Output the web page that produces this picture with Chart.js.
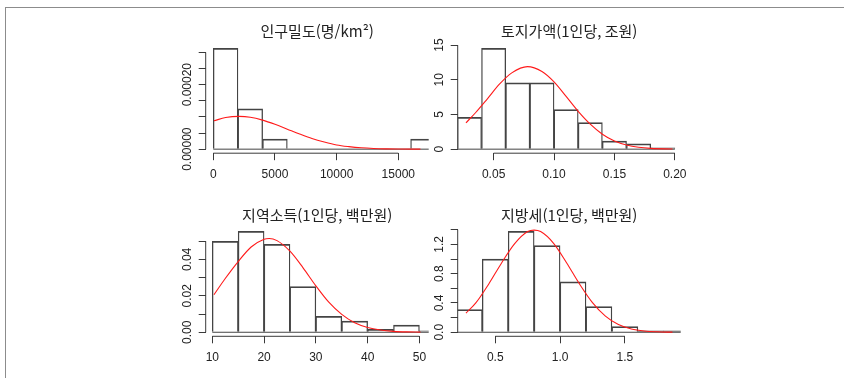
<!DOCTYPE html>
<html lang="ko">
<head>
<meta charset="utf-8">
<title>시군구 지표 분포</title>
<script src="https://cdn.jsdelivr.net/npm/chart.js@4.4.1/dist/chart.umd.min.js"></script>
<style>
  html, body { margin: 0; padding: 0; background: #fff; }
  #page { position: relative; width: 844px; height: 378px; overflow: hidden; }
  #frame {
    position: absolute; left: 5px; top: 7px; right: -2px; bottom: -2px;
    border-top: 1px solid #8c8c8c; border-left: 1px solid #8c8c8c;
  }
  canvas { position: absolute; left: 0; top: 0; }
</style>
</head>
<body>
<div id="page">
  <div id="frame"></div>
  <canvas id="popChart" width="844" height="378"></canvas>
  <canvas id="landChart" width="844" height="378"></canvas>
  <canvas id="incomeChart" width="844" height="378"></canvas>
  <canvas id="taxChart" width="844" height="378"></canvas>
</div>
<script>
// 인구밀도(명/km²) - histogram (density) + normal curve
var popBreaks  = [0, 2000, 4000, 6000, 8000, 10000, 12000, 14000, 16000, 18000];
var popDensity = [0.000313, 0.000125, 0.000031, 0, 0, 0, 0, 0, 0.000031];
var popCurveX  = [54, 1000, 2100, 3000, 4000, 5000, 6000, 7000, 8000, 9000, 10000, 11000, 12000, 13000, 14000, 15000, 16796];
var popCurveY  = [0.000088, 0.000098, 0.0001016, 0.000099, 0.00009, 0.000077, 0.000062, 0.000047, 0.000033, 0.000022, 0.000013, 0.0000078, 0.0000042, 0.0000021, 0.000001, 0.0000004, 0.0000001];
var popXTicks  = [0, 5000, 10000, 15000];
var popXLabels = ['0', '5000', '10000', '15000'];
var popYTicks  = [0, 0.00005, 0.0001, 0.00015, 0.0002, 0.00025, 0.0003];
var popYLabels = ['0.00000', '', '', '', '0.00020', '', ''];

// 토지가액(1인당, 조원)
var landBreaks  = [0.02, 0.04, 0.06, 0.08, 0.10, 0.12, 0.14, 0.16, 0.18, 0.20];
var landDensity = [4.6, 14.55, 9.55, 9.55, 5.7, 3.85, 1.15, 0.76, 0.19];
var landCurveX  = [0.0271, 0.035, 0.045, 0.055, 0.065, 0.078, 0.09, 0.10, 0.11, 0.12, 0.13, 0.14, 0.15, 0.16, 0.17, 0.18, 0.198];
var landCurveY  = [3.8, 5.25, 7.3, 9.4, 11.0, 11.9, 11.2, 9.7, 7.6, 5.45, 3.6, 2.15, 1.18, 0.6, 0.27, 0.11, 0.02];
var landXTicks  = [0.05, 0.10, 0.15, 0.20];
var landXLabels = ['0.05', '0.10', '0.15', '0.20'];
var landYTicks  = [0, 5, 10, 15];
var landYLabels = ['0', '5', '10', '15'];

// 지역소득(1인당, 백만원)
var incomeBreaks  = [10, 15, 20, 25, 30, 35, 40, 45, 50, 55];
var incomeDensity = [0.0499, 0.0554, 0.0483, 0.0251, 0.0087, 0.0061, 0.0016, 0.0039, 0.0008];
var incomeCurveX  = [10.32, 12.5, 15, 17.5, 20, 21, 22.5, 25, 27.5, 30, 32.5, 35, 37.5, 40, 42.5, 45, 47.5, 50.2];
var incomeCurveY  = [0.0206, 0.0295, 0.0388, 0.0468, 0.0511, 0.0515, 0.0503, 0.0445, 0.0355, 0.0255, 0.0165, 0.0098, 0.0052, 0.0026, 0.0012, 0.0005, 0.0002, 0.0001];
var incomeXTicks  = [10, 20, 30, 40, 50];
var incomeXLabels = ['10', '20', '30', '40', '50'];
var incomeYTicks  = [0, 0.01, 0.02, 0.03, 0.04, 0.05];
var incomeYLabels = ['0.00', '', '0.02', '', '0.04', ''];

// 지방세(1인당, 백만원)
var taxBreaks  = [0.2, 0.4, 0.6, 0.8, 1.0, 1.2, 1.4, 1.6, 1.8, 2.0];
var taxDensity = [0.31, 1.0, 1.378, 1.182, 0.69, 0.352, 0.078, 0.019, 0.019];
var taxCurveX  = [0.274, 0.35, 0.45, 0.55, 0.65, 0.75, 0.80, 0.85, 0.95, 1.05, 1.15, 1.25, 1.35, 1.45, 1.55, 1.65, 1.75, 1.867];
var taxCurveY  = [0.26, 0.40, 0.66, 0.95, 1.21, 1.375, 1.395, 1.375, 1.215, 0.95, 0.66, 0.405, 0.22, 0.105, 0.045, 0.017, 0.006, 0.0013];
var taxXTicks  = [0.5, 1.0, 1.5];
var taxXLabels = ['0.5', '1.0', '1.5'];
var taxYTicks  = [0, 0.2, 0.4, 0.6, 0.8, 1.0, 1.2, 1.4];
var taxYLabels = ['0.0', '', '0.4', '', '0.8', '', '1.2', ''];

var INK = '#3a3a3a';
var BAR_INK = '#444';
var TEXT = '#222';
var TICK_LEN = 7;
var AXIS_BOX = 45;        // room kept for tick labels on each axis
var Y_LABEL_GAP = 18.5;   // axis -> centre of rotated y labels
var X_LABEL_PAD = 7.3;
var TICK_FONT = { family: '"Liberation Sans", Arial, sans-serif', size: 12 };

Chart.defaults.font.family = TICK_FONT.family;

// R draws the axis line only between the first and last tick
var axisLines = {
  id: 'axisLines',
  afterDraw: function (chart) {
    var ctx = chart.ctx, area = chart.chartArea;
    var x = chart.scales.x, y = chart.scales.y;
    ctx.save();
    ctx.strokeStyle = INK;
    ctx.lineWidth = 1;
    ctx.beginPath();
    ctx.moveTo(x.getPixelForValue(x.ticks[0].value), area.bottom);
    ctx.lineTo(x.getPixelForValue(x.ticks[x.ticks.length - 1].value), area.bottom);
    ctx.moveTo(area.left, y.getPixelForValue(y.ticks[0].value));
    ctx.lineTo(area.left, y.getPixelForValue(y.ticks[y.ticks.length - 1].value));
    ctx.stroke();
    ctx.restore();
  }
};

var measure = document.createElement('canvas').getContext('2d');
measure.font = TICK_FONT.size + 'px ' + TICK_FONT.family;
function yLabelPadding(labels) {
  var widest = Math.max.apply(null, labels.map(function (t) { return measure.measureText(t).width; }));
  return Y_LABEL_GAP - TICK_LEN - widest / 2;
}

function histChart(id, p) {
  var n = p.density.length;
  var bars = [];
  for (var i = 0; i < n; i++) {
    bars.push({ x: (p.breaks[i] + p.breaks[i + 1]) / 2, y: p.density[i] });
  }
  var curve = p.curveX.map(function (v, i) { return { x: v, y: p.curveY[i] }; });
  var lo = p.curveX[0], hi = p.curveX[p.curveX.length - 1];
  var top = Math.max.apply(null, p.density);

  return new Chart(document.getElementById(id), {
    type: 'bar',
    data: {
      datasets: [
        {
          type: 'line', data: curve, order: 0,
          borderColor: '#ff1a1a', borderWidth: 1.1, pointRadius: 0,
          cubicInterpolationMode: 'monotone', fill: false
        },
        {
          type: 'line', order: 1,
          data: [{ x: p.breaks[0], y: 0 }, { x: p.breaks[n], y: 0 }],
          borderColor: BAR_INK, borderWidth: 1, pointRadius: 0, fill: false
        },
        {
          type: 'bar', data: bars, order: 2,
          backgroundColor: 'rgba(255,255,255,0)', borderColor: BAR_INK,
          borderWidth: { top: 1.1, bottom: 0, left: 0.65, right: 0.65 },
          borderSkipped: false,
          barPercentage: 1, categoryPercentage: 1, grouped: false
        }
      ]
    },
    options: {
      responsive: false,
      animation: false,
      events: [],
      layout: { autoPadding: false, padding: p.padding },
      plugins: {
        legend: { display: false },
        tooltip: { enabled: false },
        title: {
          display: true, fullSize: false, text: p.title, color: TEXT,
          font: { family: '"Noto Sans CJK KR", sans-serif', size: 15, weight: 'normal' },
          padding: { top: 22.7, bottom: 3.5 }
        }
      },
      scales: {
        x: {
          type: 'linear', offset: false,
          min: lo - 0.04 * (hi - lo), max: hi + 0.04 * (hi - lo),
          afterBuildTicks: function (s) { s.ticks = p.xTicks.map(function (v) { return { value: v }; }); },
          afterFit: function (s) { s.height = AXIS_BOX; },
          border: { display: false },
          grid: { offset: false, drawOnChartArea: false, drawTicks: true, tickLength: TICK_LEN, color: INK, lineWidth: 1 },
          ticks: {
            autoSkip: false, minRotation: 0, maxRotation: 0, padding: X_LABEL_PAD,
            color: TEXT, font: TICK_FONT,
            callback: function (v, i) { return p.xLabels[i]; }
          }
        },
        y: {
          type: 'linear',
          min: -0.04 * top, max: 1.04 * top,
          afterBuildTicks: function (s) { s.ticks = p.yTicks.map(function (v) { return { value: v }; }); },
          afterFit: function (s) { s.width = AXIS_BOX; },
          border: { display: false },
          grid: { drawOnChartArea: false, drawTicks: true, tickLength: TICK_LEN, color: INK, lineWidth: 1 },
          ticks: {
            autoSkip: false, minRotation: 90, maxRotation: 90, crossAlign: 'center',
            padding: yLabelPadding(p.yLabels),
            color: TEXT, font: TICK_FONT,
            callback: function (v, i) { return p.yLabels[i]; }
          }
        }
      }
    },
    plugins: [axisLines]
  });
}

// plot regions: left column 205.7-428.7, right column 457.7-680.7,
// top row 44.2-153.2, bottom row 227.3-336.3
function region(left, right, top, bottom) {
  return { left: left - AXIS_BOX, right: 844 - right, top: top - 44.2, bottom: 378 - bottom - AXIS_BOX };
}

histChart('popChart', {
  title: '인구밀도(명/km²)',
  breaks: popBreaks, density: popDensity, curveX: popCurveX, curveY: popCurveY,
  xTicks: popXTicks, xLabels: popXLabels, yTicks: popYTicks, yLabels: popYLabels,
  padding: region(205.7, 428.7, 44.2, 153.2)
});
histChart('landChart', {
  title: '토지가액(1인당, 조원)',
  breaks: landBreaks, density: landDensity, curveX: landCurveX, curveY: landCurveY,
  xTicks: landXTicks, xLabels: landXLabels, yTicks: landYTicks, yLabels: landYLabels,
  padding: region(457.7, 680.7, 44.2, 153.2)
});
histChart('incomeChart', {
  title: '지역소득(1인당, 백만원)',
  breaks: incomeBreaks, density: incomeDensity, curveX: incomeCurveX, curveY: incomeCurveY,
  xTicks: incomeXTicks, xLabels: incomeXLabels, yTicks: incomeYTicks, yLabels: incomeYLabels,
  padding: region(205.7, 428.7, 227.3, 336.3)
});
histChart('taxChart', {
  title: '지방세(1인당, 백만원)',
  breaks: taxBreaks, density: taxDensity, curveX: taxCurveX, curveY: taxCurveY,
  xTicks: taxXTicks, xLabels: taxXLabels, yTicks: taxYTicks, yLabels: taxYLabels,
  padding: region(457.7, 680.7, 227.3, 336.3)
});
</script>
</body>
</html>
